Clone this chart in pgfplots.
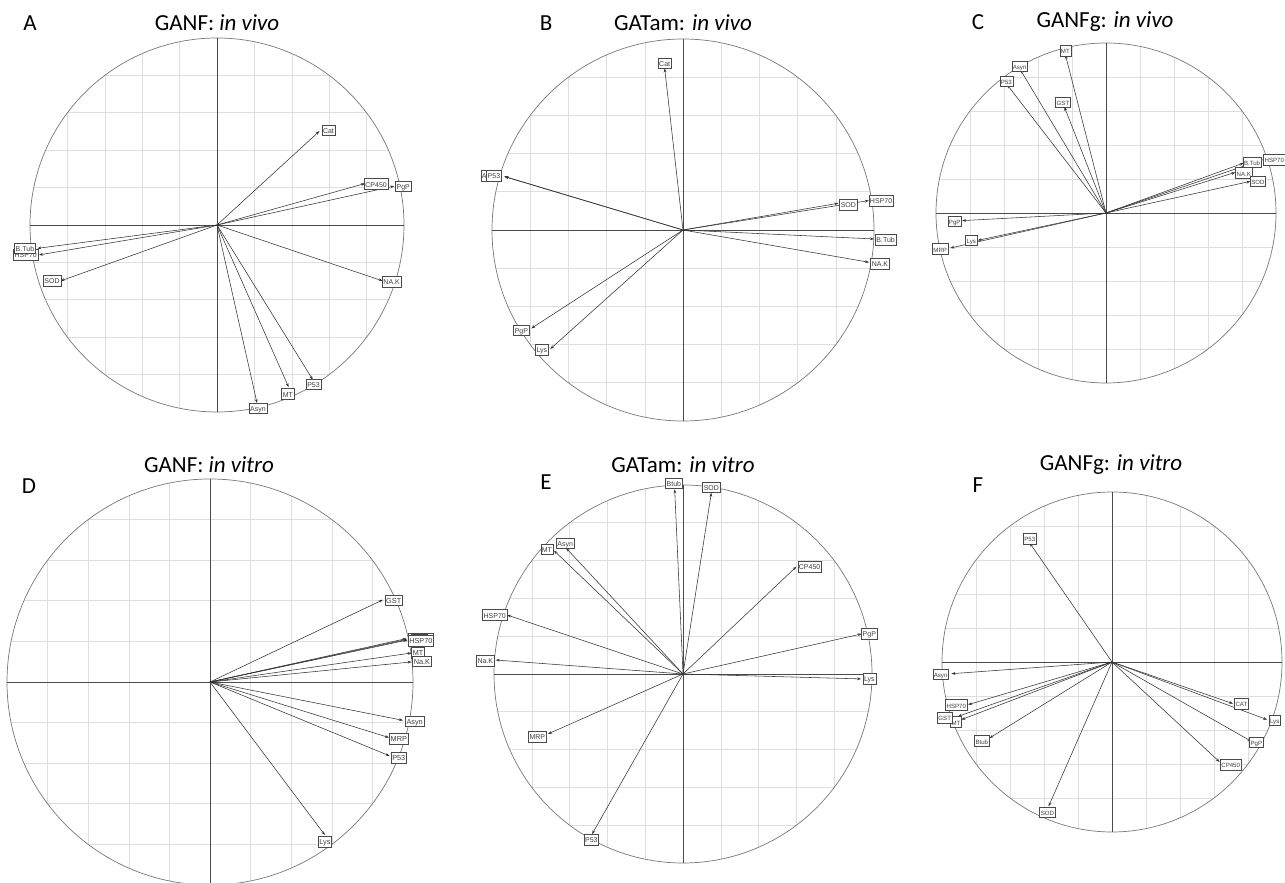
\documentclass[border=0pt]{standalone}
\usepackage{fontspec}
\setmainfont{Carlito}
\newfontfamily\lab{Liberation Sans}
\usepackage{pgfplots}
\usepackage{pgfplotstable}
\pgfplotsset{compat=1.18}
\usetikzlibrary{arrows.meta}

\definecolor{gridc}{HTML}{DEDEDE}
\definecolor{circc}{HTML}{777777}
\definecolor{axc}{HTML}{4A4A4A}
\definecolor{arrc}{HTML}{333333}

% ---------------- data: arrow tip (x,y), label centre (lx,ly), name
\pgfplotstableread{
x y lx ly name
0.548 0.502 0.596 0.507 Cat
0.792 0.222 0.851 0.219 CP450
0.948 0.208 0.996 0.208 PgP
0.886 -0.299 0.934 -0.302 NA.K
0.512 -0.827 0.516 -0.851 P53
0.383 -0.867 0.379 -0.904 MT
0.214 -0.952 0.219 -0.980 Asyn
-0.952 -0.160 -1.023 -0.160 HSP70
-0.961 -0.125 -1.027 -0.125 B.Tub
-0.836 -0.299 -0.882 -0.298 SOD
}\tabA
\pgfplotstableread{
x y lx ly name
-0.096 0.846 -0.096 0.873 Cat
-0.936 0.281 -1.012 0.283 Asyn
-0.934 0.279 -0.990 0.283 P53
0.813 0.140 0.866 0.131 SOD
0.973 0.154 1.037 0.154 HSP70
1.000 -0.047 1.061 -0.052 B.Tub
0.974 -0.169 1.031 -0.178 NA.K
-0.794 -0.515 -0.846 -0.524 PgP
-0.695 -0.623 -0.739 -0.628 Lys
}\tabB
\pgfplotstableread{
x y lx ly name
-0.239 0.931 -0.239 0.955 MT
-0.504 0.843 -0.508 0.863 Asyn
-0.582 0.755 -0.586 0.775 P53
-0.245 0.624 -0.253 0.651 GST
0.924 0.314 0.990 0.314 HSP70
0.810 0.294 0.859 0.298 B.Tub
0.761 0.239 0.810 0.235 NA.K
0.849 0.186 0.894 0.186 SOD
-0.847 -0.045 -0.890 -0.049 PgP
-0.755 -0.161 -0.792 -0.161 Lys
-0.916 -0.206 -0.975 -0.212 MRP
}\tabC
\pgfplotstableread{
x y lx ly name
0.968 0.214 1.039 0.213 CP450
0.970 0.210 1.030 0.208 PgP
0.852 0.405 0.905 0.402 GST
0.993 0.143 1.025 0.143 MT
0.974 0.207 1.039 0.202 HSP70
0.993 0.099 1.044 0.103 Na.K
0.951 -0.189 1.008 -0.193 Asyn
0.882 -0.274 0.930 -0.279 MRP
0.885 -0.364 0.930 -0.372 P53
0.566 -0.754 0.566 -0.787 Lys
}\tabD
\pgfplotstableread{
x y lx ly name
-0.044 0.977 -0.048 1.009 Btub
0.150 0.959 0.150 0.988 SOD
-0.683 0.653 -0.720 0.660 MT
-0.620 0.668 -0.623 0.691 Asyn
0.600 0.568 0.670 0.568 CP450
-0.931 0.312 -0.996 0.312 HSP70
-0.991 0.074 -1.046 0.071 Na.K
-0.714 -0.317 -0.771 -0.332 MRP
-0.481 -0.847 -0.485 -0.878 P53
0.945 0.212 0.986 0.212 PgP
0.942 -0.026 0.986 -0.026 Lys
}\tabE
\pgfplotstableread{
x y lx ly name
-0.484 0.700 -0.484 0.724 P53
-0.945 -0.069 -1.008 -0.071 Asyn
-0.847 -0.251 -0.916 -0.253 HSP70
-0.886 -0.339 -0.918 -0.353 MT
-0.906 -0.320 -0.984 -0.329 GST
-0.720 -0.447 -0.766 -0.465 Btub
-0.373 -0.849 -0.380 -0.884 SOD
0.712 -0.245 0.761 -0.247 CAT
0.912 -0.339 0.957 -0.343 Lys
0.820 -0.467 0.849 -0.471 PgP
0.633 -0.588 0.698 -0.604 CP450
}\tabF

% ---------------- correlation-circle frame
\newcommand\corgrid{%
\draw[gridc,line width=0.6pt]
 (axis cs:-0.8,-0.6)--(axis cs:-0.8,0.6)
 (axis cs:-0.6,-0.8)--(axis cs:-0.6,0.8)
 (axis cs:-0.4,-0.9165)--(axis cs:-0.4,0.9165)
 (axis cs:-0.2,-0.9798)--(axis cs:-0.2,0.9798)
 (axis cs:0.2,-0.9798)--(axis cs:0.2,0.9798)
 (axis cs:0.4,-0.9165)--(axis cs:0.4,0.9165)
 (axis cs:0.6,-0.8)--(axis cs:0.6,0.8)
 (axis cs:0.8,-0.6)--(axis cs:0.8,0.6)
 (axis cs:-0.6,-0.8)--(axis cs:0.6,-0.8)
 (axis cs:-0.8,-0.6)--(axis cs:0.8,-0.6)
 (axis cs:-0.9165,-0.4)--(axis cs:0.9165,-0.4)
 (axis cs:-0.9798,-0.2)--(axis cs:0.9798,-0.2)
 (axis cs:-0.9798,0.2)--(axis cs:0.9798,0.2)
 (axis cs:-0.9165,0.4)--(axis cs:0.9165,0.4)
 (axis cs:-0.8,0.6)--(axis cs:0.8,0.6)
 (axis cs:-0.6,0.8)--(axis cs:0.6,0.8);
\draw[circc,line width=0.7pt] (axis cs:0,0) circle[radius=1];
\draw[axc,line width=0.7pt] (axis cs:-1,0)--(axis cs:1,0) (axis cs:0,-1)--(axis cs:0,1);
}

\pgfplotsset{
  corc/.style={scale only axis, width=#1pt, height=#1pt,
    xmin=-1, xmax=1, ymin=-1, ymax=1, hide axis, clip=false, anchor=center},
  arr/.style={no markers, arrc, line width=0.55pt,
    -{Stealth[length=4pt,width=2.8pt]},
    quiver={u=\thisrow{x}, v=\thisrow{y}}},
  lbl/.style={only marks, mark=*, mark size=0pt, mark options={draw=none,fill=none},
    nodes near coords, point meta=explicit symbolic,
    every node near coord/.append style={draw=axc, fill=white, text=black!75,
      font=\lab\fontsize{#1}{#1}\selectfont, inner sep=1.1pt, line width=0.5pt,
      text height=0.72em, text depth=0.12em, anchor=center}},
}

\newcommand\ttl[1]{\fontsize{23}{27}\selectfont #1}

\begin{document}
\begin{tikzpicture}
\useasboundingbox (0pt,0pt) rectangle (1285pt,883pt);

% A
\begin{axis}[corc=374, at={(217pt,658pt)}]
\corgrid
\addplot[arr] table[x expr=0, y expr=0] {\tabA};
\addplot[lbl=7] table[x=lx, y=ly, meta=name] {\tabA};
\end{axis}
% B
\begin{axis}[corc=382, at={(683pt,653pt)}]
\corgrid
\addplot[arr] table[x expr=0, y expr=0] {\tabB};
\addplot[lbl=7] table[x=lx, y=ly, meta=name] {\tabB};
\end{axis}
% C
\begin{axis}[corc=340, at={(1106pt,670pt)}]
\corgrid
\addplot[arr] table[x expr=0, y expr=0] {\tabC};
\addplot[lbl=6.1] table[x=lx, y=ly, meta=name] {\tabC};
\end{axis}
% D
\begin{axis}[corc=406, at={(210pt,201pt)}]
\corgrid
\addplot[arr] table[x expr=0, y expr=0] {\tabD};
\addplot[lbl=7.3] table[x=lx, y=ly, meta=name] {\tabD};
\end{axis}
% E
\begin{axis}[corc=378, at={(683pt,209pt)}]
\corgrid
\addplot[arr] table[x expr=0, y expr=0] {\tabE};
\addplot[lbl=7] table[x=lx, y=ly, meta=name] {\tabE};
\end{axis}
% F
\begin{axis}[corc=340, at={(1112pt,221pt)}]
\corgrid
\addplot[arr] table[x expr=0, y expr=0] {\tabF};
\addplot[lbl=6.1] table[x=lx, y=ly, meta=name] {\tabF};
\end{axis}

% titles and panel letters
\node at (217pt,860pt) {\ttl{GANF: \textit{in vivo}}};
\node at (683pt,860pt) {\ttl{GATam: \textit{in vivo}}};
\node at (1105pt,861pt) {\ttl{GANFg: \textit{in vivo}}};
\node at (209pt,418pt) {\ttl{GANF: \textit{in vitro}}};
\node at (683pt,418pt) {\ttl{GATam: \textit{in vitro}}};
\node at (1111pt,418pt) {\ttl{GANFg: \textit{in vitro}}};
\node at (30pt,860pt) {\ttl{A}};
\node at (546pt,860pt) {\ttl{B}};
\node at (978pt,861pt) {\ttl{C}};
\node at (29pt,397pt) {\ttl{D}};
\node at (546pt,401pt) {\ttl{E}};
\node at (978pt,398pt) {\ttl{F}};
\end{tikzpicture}
\end{document}
